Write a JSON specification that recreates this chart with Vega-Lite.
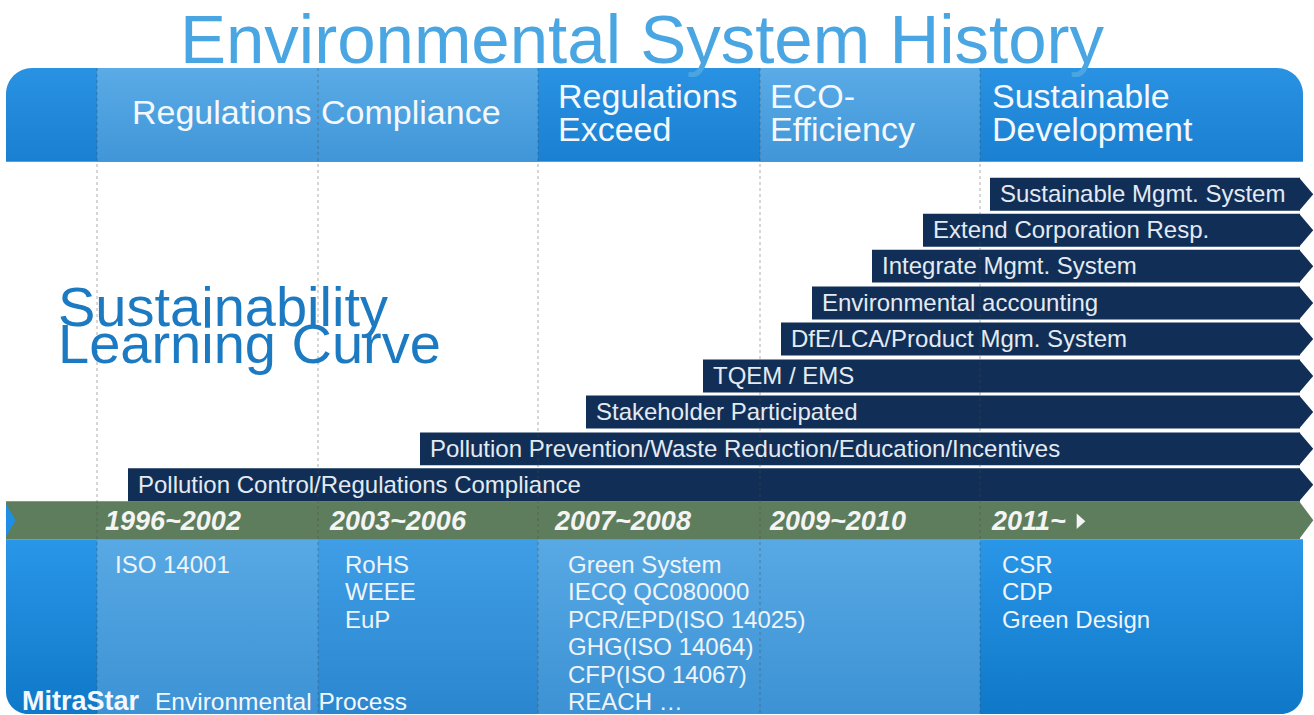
{
  "$schema": "https://vega.github.io/schema/vega-lite/v6.json",
  "width": 1314,
  "height": 715,
  "autosize": {"type": "fit", "contains": "padding"},
  "padding": 0,
  "background": "white",
  "config": {"view": {"stroke": null}, "text": {"font": "Liberation Sans"}},
  "datasets": {
    "topBand": [{"x0": 6, "x1": 1303, "y0": 68, "y1": 162}],
    "topLight": [{"x0": 97, "x1": 538, "y0": 68, "y1": 162}, {"x0": 760, "x1": 980, "y0": 68, "y1": 162}],
    "bottomBand": [{"x0": 6, "x1": 1303, "y0": 540, "y1": 715}],
    "bottomLight": [{"x0": 97, "x1": 318, "y0": 540, "y1": 715}, {"x0": 538, "x1": 980, "y0": 540, "y1": 715}],
    "bottomMid": [{"x0": 318, "x1": 538, "y0": 540, "y1": 715}],
    "greenBand": [{"x0": 6, "x1": 1300, "y0": 502, "y1": 540, "yc": 521}],
    "notch": [{"x": 6, "y": 521}],
    "dividers": [{"x": 97}, {"x": 318}, {"x": 538}, {"x": 760}, {"x": 980}],
    "steps": [
      {"label": "Sustainable Mgmt. System", "start": 990, "end": 1300, "top": 178, "bottom": 211, "mid": 194.5},
      {"label": "Extend Corporation Resp.", "start": 923, "end": 1300, "top": 214, "bottom": 247, "mid": 230.5},
      {"label": "Integrate Mgmt. System", "start": 872, "end": 1300, "top": 250, "bottom": 283, "mid": 266.5},
      {"label": "Environmental accounting", "start": 812, "end": 1300, "top": 287, "bottom": 320, "mid": 303.5},
      {"label": "DfE/LCA/Product Mgm. System", "start": 781, "end": 1300, "top": 323, "bottom": 356, "mid": 339.5},
      {"label": "TQEM / EMS", "start": 703, "end": 1300, "top": 360, "bottom": 393, "mid": 376.5},
      {"label": "Stakeholder Participated", "start": 586, "end": 1300, "top": 396, "bottom": 429, "mid": 412.5},
      {"label": "Pollution Prevention/Waste Reduction/Education/Incentives", "start": 420, "end": 1300, "top": 433, "bottom": 466, "mid": 449.5},
      {"label": "Pollution Control/Regulations Compliance", "start": 128, "end": 1300, "top": 469, "bottom": 502, "mid": 485.5}
    ],
    "title": [{"x": 642, "y": 63, "t": "Environmental System History"}],
    "headerMain": [{"x": 132, "y": 124, "t": "Regulations Compliance"}],
    "headers": [
      {"x": 558, "y": 108, "t": "Regulations"},
      {"x": 558, "y": 141, "t": "Exceed"},
      {"x": 770, "y": 108, "t": "ECO-"},
      {"x": 770, "y": 141, "t": "Efficiency"},
      {"x": 992, "y": 108, "t": "Sustainable"},
      {"x": 992, "y": 141, "t": "Development"}
    ],
    "curve": [
      {"x": 58, "y": 326, "t": "Sustainability"},
      {"x": 58, "y": 364, "t": "Learning Curve"}
    ],
    "years": [
      {"x": 105, "y": 531, "t": "1996~2002"},
      {"x": 330, "y": 531, "t": "2003~2006"},
      {"x": 555, "y": 531, "t": "2007~2008"},
      {"x": 770, "y": 531, "t": "2009~2010"},
      {"x": 992, "y": 531, "t": "2011~"}
    ],
    "yearArrow": [{"x": 1081, "y": 522}],
    "items": [
      {"x": 115, "y": 574, "t": "ISO 14001"},
      {"x": 345, "y": 574, "t": "RoHS"},
      {"x": 345, "y": 601, "t": "WEEE"},
      {"x": 345, "y": 629, "t": "EuP"},
      {"x": 568, "y": 574, "t": "Green System"},
      {"x": 568, "y": 601, "t": "IECQ QC080000"},
      {"x": 568, "y": 629, "t": "PCR/EPD(ISO 14025)"},
      {"x": 568, "y": 656, "t": "GHG(ISO 14064)"},
      {"x": 568, "y": 684, "t": "CFP(ISO 14067)"},
      {"x": 568, "y": 711, "t": "REACH …"},
      {"x": 1002, "y": 574, "t": "CSR"},
      {"x": 1002, "y": 601, "t": "CDP"},
      {"x": 1002, "y": 629, "t": "Green Design"}
    ],
    "brand": [{"x": 22, "y": 711, "t": "MitraStar"}],
    "brandRest": [{"x": 155, "y": 711, "t": "Environmental Process"}]
  },
  "layer": [
    {
      "data": {"name": "topBand"},
      "mark": {"type": "rect", "cornerRadiusTopLeft": 26, "cornerRadiusTopRight": 26,
        "fill": {"gradient": "linear", "x1": 0, "y1": 0, "x2": 0, "y2": 1, "stops": [{"offset": 0, "color": "#2a92e2"}, {"offset": 1, "color": "#1a80d2"}]}},
      "encoding": {
        "x": {"field": "x0", "type": "quantitative", "scale": {"domain": [0, 1314], "nice": false, "zero": false}, "axis": null},
        "x2": {"field": "x1"},
        "y": {"field": "y0", "type": "quantitative", "scale": {"domain": [0, 715], "nice": false, "zero": false, "reverse": true}, "axis": null},
        "y2": {"field": "y1"}
      }
    },
    {
      "data": {"name": "topLight"},
      "mark": {"type": "rect",
        "fill": {"gradient": "linear", "x1": 0, "y1": 0, "x2": 0, "y2": 1, "stops": [{"offset": 0, "color": "#5aabe6"}, {"offset": 1, "color": "#4096d8"}]}},
      "encoding": {
        "x": {"field": "x0", "type": "quantitative"}, "x2": {"field": "x1"},
        "y": {"field": "y0", "type": "quantitative"}, "y2": {"field": "y1"}
      }
    },
    {
      "data": {"name": "bottomBand"},
      "mark": {"type": "rect", "cornerRadiusBottomLeft": 22, "cornerRadiusBottomRight": 22,
        "fill": {"gradient": "linear", "x1": 0, "y1": 0, "x2": 0, "y2": 1, "stops": [{"offset": 0, "color": "#2a96e8"}, {"offset": 1, "color": "#0f78c8"}]}},
      "encoding": {
        "x": {"field": "x0", "type": "quantitative"}, "x2": {"field": "x1"},
        "y": {"field": "y0", "type": "quantitative"}, "y2": {"field": "y1"}
      }
    },
    {
      "data": {"name": "bottomLight"},
      "mark": {"type": "rect",
        "fill": {"gradient": "linear", "x1": 0, "y1": 0, "x2": 0, "y2": 1, "stops": [{"offset": 0, "color": "#58a9e4"}, {"offset": 1, "color": "#3c92d4"}]}},
      "encoding": {
        "x": {"field": "x0", "type": "quantitative"}, "x2": {"field": "x1"},
        "y": {"field": "y0", "type": "quantitative"}, "y2": {"field": "y1"}
      }
    },
    {
      "data": {"name": "bottomMid"},
      "mark": {"type": "rect",
        "fill": {"gradient": "linear", "x1": 0, "y1": 0, "x2": 0, "y2": 1, "stops": [{"offset": 0, "color": "#3f9ee6"}, {"offset": 1, "color": "#2a86cf"}]}},
      "encoding": {
        "x": {"field": "x0", "type": "quantitative"}, "x2": {"field": "x1"},
        "y": {"field": "y0", "type": "quantitative"}, "y2": {"field": "y1"}
      }
    },
    {
      "data": {"name": "greenBand"},
      "mark": {"type": "rect", "fill": "#5e7d5c"},
      "encoding": {
        "x": {"field": "x0", "type": "quantitative"}, "x2": {"field": "x1"},
        "y": {"field": "y0", "type": "quantitative"}, "y2": {"field": "y1"}
      }
    },
    {
      "data": {"name": "greenBand"},
      "mark": {"type": "point", "filled": true, "opacity": 1, "fill": "#5e7d5c", "strokeWidth": 0, "size": 1444, "shape": "M-0.05,-1L0.7,0L-0.05,1Z"},
      "encoding": {
        "x": {"field": "x1", "type": "quantitative"},
        "y": {"field": "yc", "type": "quantitative"}
      }
    },
    {
      "data": {"name": "notch"},
      "mark": {"type": "point", "filled": true, "opacity": 1, "fill": "#1f8fe6", "strokeWidth": 0, "size": 1444, "shape": "M0,-0.85L0.5,0L0,0.85Z"},
      "encoding": {
        "x": {"field": "x", "type": "quantitative"},
        "y": {"field": "y", "type": "quantitative"}
      }
    },
    {
      "data": {"name": "steps"},
      "mark": {"type": "rect", "fill": "#112f56"},
      "encoding": {
        "x": {"field": "start", "type": "quantitative"}, "x2": {"field": "end"},
        "y": {"field": "top", "type": "quantitative"}, "y2": {"field": "bottom"}
      }
    },
    {
      "data": {"name": "steps"},
      "mark": {"type": "point", "filled": true, "opacity": 1, "fill": "#112f56", "strokeWidth": 0, "size": 1089, "shape": "M-0.05,-1L0.8,0L-0.05,1Z"},
      "encoding": {
        "x": {"field": "end", "type": "quantitative"},
        "y": {"field": "mid", "type": "quantitative"}
      }
    },
    {
      "data": {"name": "dividers"},
      "mark": {"type": "rule", "y": 68, "y2": 715, "color": "#4a4a4a", "opacity": 0.45, "strokeWidth": 1, "strokeDash": [3, 3]},
      "encoding": {
        "x": {"field": "x", "type": "quantitative"}
      }
    },
    {
      "data": {"name": "steps"},
      "mark": {"type": "text", "align": "left", "baseline": "middle", "dx": 10, "dy": 1, "fontSize": 24, "color": "#e4eaf2"},
      "encoding": {
        "x": {"field": "start", "type": "quantitative"},
        "y": {"field": "mid", "type": "quantitative"},
        "text": {"field": "label"}
      }
    },
    {
      "data": {"name": "title"},
      "mark": {"type": "text", "align": "center", "baseline": "alphabetic", "fontSize": 69, "color": "#4aa6e2"},
      "encoding": {
        "x": {"field": "x", "type": "quantitative"},
        "y": {"field": "y", "type": "quantitative"},
        "text": {"field": "t"}
      }
    },
    {
      "data": {"name": "headerMain"},
      "mark": {"type": "text", "align": "left", "baseline": "alphabetic", "fontSize": 34, "color": "#f4f8fc"},
      "encoding": {
        "x": {"field": "x", "type": "quantitative"},
        "y": {"field": "y", "type": "quantitative"},
        "text": {"field": "t"}
      }
    },
    {
      "data": {"name": "headers"},
      "mark": {"type": "text", "align": "left", "baseline": "alphabetic", "fontSize": 34, "color": "#f4f8fc"},
      "encoding": {
        "x": {"field": "x", "type": "quantitative"},
        "y": {"field": "y", "type": "quantitative"},
        "text": {"field": "t"}
      }
    },
    {
      "data": {"name": "curve"},
      "mark": {"type": "text", "align": "left", "baseline": "alphabetic", "fontSize": 56, "color": "#1b7ac2"},
      "encoding": {
        "x": {"field": "x", "type": "quantitative"},
        "y": {"field": "y", "type": "quantitative"},
        "text": {"field": "t"}
      }
    },
    {
      "data": {"name": "years"},
      "mark": {"type": "text", "align": "left", "baseline": "alphabetic", "fontSize": 27, "fontWeight": "bold", "fontStyle": "italic", "color": "#f4f4f4"},
      "encoding": {
        "x": {"field": "x", "type": "quantitative"},
        "y": {"field": "y", "type": "quantitative"},
        "text": {"field": "t"}
      }
    },
    {
      "data": {"name": "yearArrow"},
      "mark": {"type": "point", "filled": true, "opacity": 1, "fill": "#f4f4f4", "strokeWidth": 0, "size": 300, "shape": "M-0.5,-0.9L0.5,0L-0.5,0.9Z"},
      "encoding": {
        "x": {"field": "x", "type": "quantitative"},
        "y": {"field": "y", "type": "quantitative"}
      }
    },
    {
      "data": {"name": "items"},
      "mark": {"type": "text", "align": "left", "baseline": "alphabetic", "fontSize": 24, "color": "#eef4fa"},
      "encoding": {
        "x": {"field": "x", "type": "quantitative"},
        "y": {"field": "y", "type": "quantitative"},
        "text": {"field": "t"}
      }
    },
    {
      "data": {"name": "brand"},
      "mark": {"type": "text", "align": "left", "baseline": "alphabetic", "fontSize": 27, "fontWeight": "bold", "color": "#f4f8fc"},
      "encoding": {
        "x": {"field": "x", "type": "quantitative"},
        "y": {"field": "y", "type": "quantitative"},
        "text": {"field": "t"}
      }
    },
    {
      "data": {"name": "brandRest"},
      "mark": {"type": "text", "align": "left", "baseline": "alphabetic", "fontSize": 24.5, "color": "#f4f8fc"},
      "encoding": {
        "x": {"field": "x", "type": "quantitative"},
        "y": {"field": "y", "type": "quantitative"},
        "text": {"field": "t"}
      }
    }
  ]
}
